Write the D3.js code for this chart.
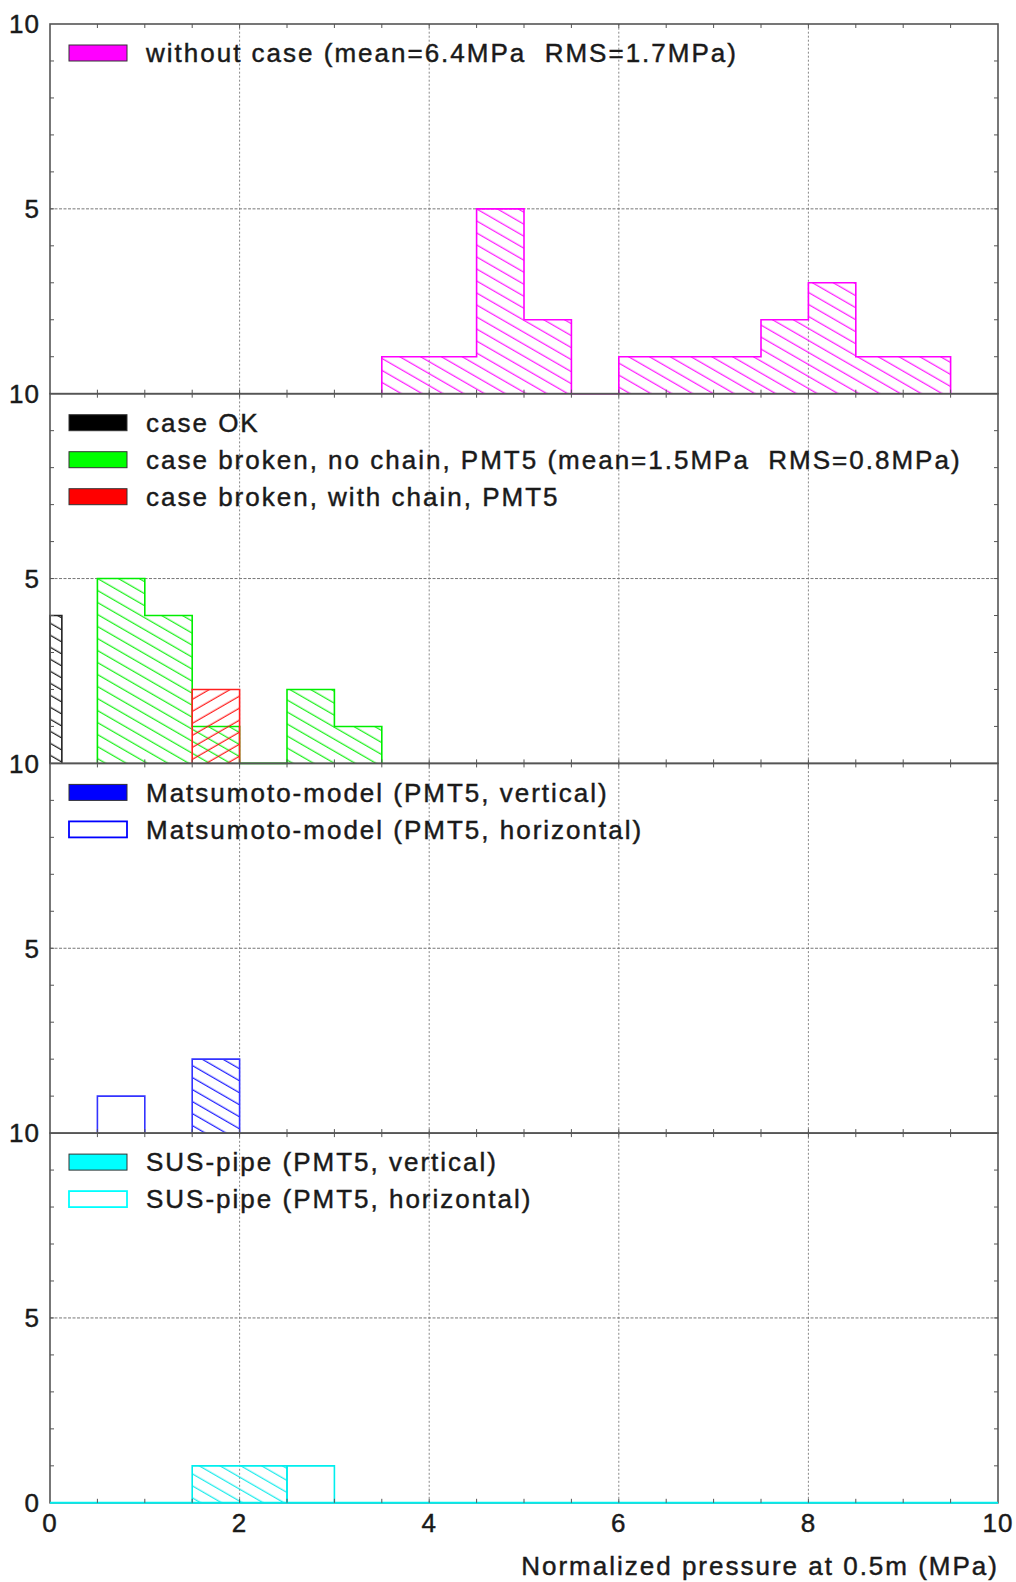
<!DOCTYPE html>
<html>
<head>
<meta charset="utf-8">
<script src="https://cdn.jsdelivr.net/npm/d3@7"></script>
<style>
  body { margin: 0; background: #fff; }
  text { font-family: "Liberation Sans", Arial, sans-serif; fill: #1a1a1a; stroke: #1a1a1a; stroke-width: 0.45px; white-space: pre; }
</style>
</head>
<body>
<svg id="chart" width="1016" height="1582"></svg>
<script>
// Histogram bins (lower edges, MPa) and counts
const withoutCaseLow = [3.5, 4.0, 4.5, 5.0, 5.5, 6.0, 6.5, 7.0, 7.5, 8.0, 8.5, 9.0];
const withoutCaseCounts = [1, 1, 5, 2, 0, 1, 1, 1, 2, 3, 1, 1];

const caseOkLow = [0];
const caseOkCounts = [4];

const noChainLow = [0.5, 1.0, 1.5, 2.0, 2.5, 3.0];
const noChainCounts = [5, 4, 1, 0, 2, 1];

const withChainLow = [1.5];
const withChainCounts = [2];

const matsuVertLow = [1.5];
const matsuVertCounts = [2];
const matsuHorizLow = [0.5];
const matsuHorizCounts = [1];

const susVertLow = [1.5, 2.0];
const susVertCounts = [1, 1];
const susHorizLow = [2.5];
const susHorizCounts = [1];

const xTicks = [0, 2, 4, 6, 8, 10];
const xTitle = "Normalized pressure at 0.5m (MPa)";

const svg = d3.select("#chart");
const x = d3.scaleLinear().domain([0, 10]).range([50, 998]);
const panelTop = 24, panelH = 369.7;

// hatch patterns
const defs = svg.append("defs");
function hatch(id, color, angle) {
  const p = defs.append("pattern")
    .attr("id", id)
    .attr("patternUnits", "userSpaceOnUse")
    .attr("width", 10).attr("height", 10.4)
    .attr("patternTransform", `rotate(${angle})`);
  p.append("line")
    .attr("x1", 0).attr("x2", 10).attr("y1", 5).attr("y2", 5)
    .attr("stroke", color).attr("stroke-width", 1.1);
}
hatch("h-mag", "#ff00ff", 30);
hatch("h-black", "#000", 30);
hatch("h-green", "#00ee00", 30);
hatch("h-red", "#ff0000", -30);
hatch("h-blue", "#0000ff", 30);
hatch("h-cyan", "#00e8e8", 30);

const panels = [
  {
    series: [{ low: withoutCaseLow, counts: withoutCaseCounts, w: 0.5, color: "#ff00ff", fill: "url(#h-mag)" }],
    legend: [{ label: "without case (mean=6.4MPa  RMS=1.7MPa)", color: "#ff00ff", solid: true }]
  },
  {
    series: [
      { low: caseOkLow, counts: caseOkCounts, w: 0.125, color: "#222", fill: "url(#h-black)" },
      { low: noChainLow, counts: noChainCounts, w: 0.5, color: "#00ee00", fill: "url(#h-green)" },
      { low: withChainLow, counts: withChainCounts, w: 0.5, color: "#ff2020", fill: "url(#h-red)" }
    ],
    legend: [
      { label: "case OK", color: "#000", solid: true },
      { label: "case broken, no chain, PMT5 (mean=1.5MPa  RMS=0.8MPa)", color: "#00ff00", solid: true },
      { label: "case broken, with chain, PMT5", color: "#ff0000", solid: true }
    ]
  },
  {
    series: [
      { low: matsuHorizLow, counts: matsuHorizCounts, w: 0.5, color: "#3333ff", fill: "none" },
      { low: matsuVertLow, counts: matsuVertCounts, w: 0.5, color: "#3333ff", fill: "url(#h-blue)" }
    ],
    legend: [
      { label: "Matsumoto-model (PMT5, vertical)", color: "#0000ff", solid: true },
      { label: "Matsumoto-model (PMT5, horizontal)", color: "#0000ff", solid: false }
    ]
  },
  {
    series: [
      { low: susVertLow, counts: susVertCounts, w: 0.5, color: "#00eeee", fill: "url(#h-cyan)" },
      { low: susHorizLow, counts: susHorizCounts, w: 0.5, color: "#00eeee", fill: "none" }
    ],
    legend: [
      { label: "SUS-pipe (PMT5, vertical)", color: "#00ffff", solid: true },
      { label: "SUS-pipe (PMT5, horizontal)", color: "#00ffff", solid: false }
    ],
    baseline: "#00eeee"
  }
];

const line = d3.line().x(d => x(d[0]));

panels.forEach((panel, i) => {
  const top = panelTop + i * panelH;
  const y = d3.scaleLinear().domain([0, 10]).range([top + panelH, top]);
  const g = svg.append("g");

  // grid
  g.selectAll(".gx").data([2, 4, 6, 8]).join("line")
    .attr("x1", d => x(d)).attr("x2", d => x(d))
    .attr("y1", y(0)).attr("y2", y(10))
    .attr("stroke", "#888").attr("stroke-width", 1).attr("stroke-dasharray", "2,2");
  g.append("line")
    .attr("x1", x(0)).attr("x2", x(10)).attr("y1", y(5)).attr("y2", y(5))
    .attr("stroke", "#777").attr("stroke-width", 1).attr("stroke-dasharray", "3,1.5");

  // histograms
  panel.series.forEach(s => {
    const pts = [[s.low[0], 0]];
    s.low.forEach((lo, k) => {
      pts.push([lo, s.counts[k]]);
      pts.push([lo + s.w, s.counts[k]]);
    });
    pts.push([s.low[s.low.length - 1] + s.w, 0]);
    const l = line.y(d => y(d[1]));
    g.append("path")
      .attr("d", l(pts) + "Z")
      .attr("fill", s.fill)
      .attr("stroke", "none");
    g.append("path")
      .attr("d", l(pts))
      .attr("fill", "none")
      .attr("stroke", s.color)
      .attr("stroke-width", 1.6);
  });

  // frame
  g.append("rect")
    .attr("x", x(0)).attr("y", y(10))
    .attr("width", x(10) - x(0)).attr("height", y(0) - y(10))
    .attr("fill", "none").attr("stroke", "#555").attr("stroke-width", 1.6);

  if (panel.baseline) {
    g.append("line")
      .attr("x1", x(0)).attr("x2", x(10)).attr("y1", y(0)).attr("y2", y(0))
      .attr("stroke", panel.baseline).attr("stroke-width", 2);
  }

  // ticks (inward)
  const xt = d3.range(0.5, 10, 0.5);
  g.selectAll(".tb").data(xt).join("line")
    .attr("x1", d => x(d)).attr("x2", d => x(d))
    .attr("y1", y(0)).attr("y2", y(0) - 4)
    .attr("stroke", "#555");
  g.selectAll(".tt").data(xt).join("line")
    .attr("x1", d => x(d)).attr("x2", d => x(d))
    .attr("y1", y(10)).attr("y2", y(10) + 4)
    .attr("stroke", "#555");
  const yt = d3.range(1, 10, 1);
  g.selectAll(".tl").data(yt).join("line")
    .attr("x1", x(0)).attr("x2", x(0) + 4)
    .attr("y1", d => y(d)).attr("y2", d => y(d))
    .attr("stroke", "#555");
  g.selectAll(".tr").data(yt).join("line")
    .attr("x1", x(10)).attr("x2", x(10) - 4)
    .attr("y1", d => y(d)).attr("y2", d => y(d))
    .attr("stroke", "#555");

  // y labels
  const yLabels = i === panels.length - 1 ? [0, 5, 10] : [5, 10];
  g.selectAll(".yl").data(yLabels).join("text")
    .attr("x", 40).attr("y", d => y(d))
    .attr("dy", "0.36em")
    .attr("text-anchor", "end")
    .style("font-size", "26px")
    .style("letter-spacing", "1px")
    .text(d => d);

  // legend
  panel.legend.forEach((lg, k) => {
    const cy = top + 29 + k * 37;
    g.append("rect")
      .attr("x", 69).attr("y", cy - 8).attr("width", 58).attr("height", 16)
      .attr("fill", lg.solid ? lg.color : "#fff")
      .attr("stroke", lg.solid ? "#333" : lg.color)
      .attr("stroke-width", lg.solid ? 1 : 1.8);
    g.append("text")
      .attr("x", 146).attr("y", cy)
      .attr("dy", "0.36em")
      .style("font-size", "26px")
      .style("letter-spacing", "2px")
      .text(lg.label);
  });
});

// x axis labels
const bottom = panelTop + panels.length * panelH;
svg.selectAll(".xl").data(xTicks).join("text")
  .attr("x", d => x(d)).attr("y", bottom + 20)
  .attr("dy", "0.36em")
  .attr("text-anchor", "middle")
  .style("font-size", "26px")
  .style("letter-spacing", "1px")
  .text(d => d);

svg.append("text")
  .attr("x", 999).attr("y", bottom + 63)
  .attr("dy", "0.36em")
  .attr("text-anchor", "end")
  .style("font-size", "26px")
  .style("letter-spacing", "2px")
  .text(xTitle);
</script>
</body>
</html>
